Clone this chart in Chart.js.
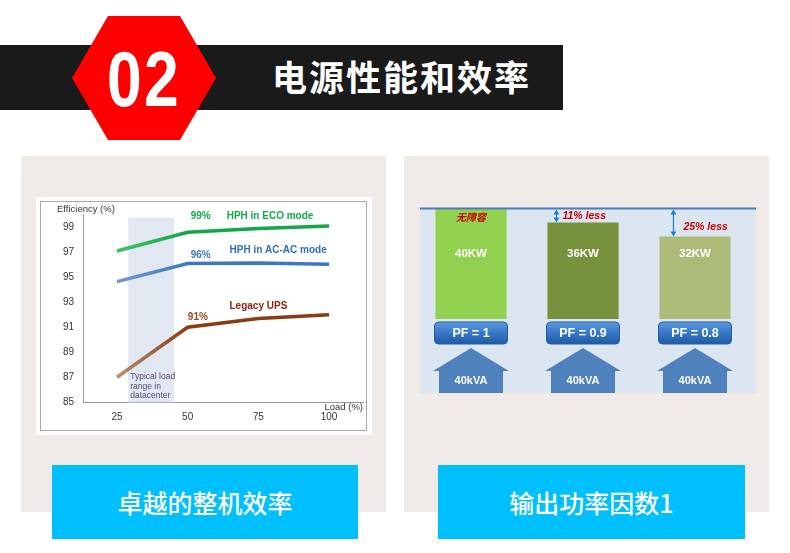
<!DOCTYPE html>
<html>
<head>
<meta charset="utf-8">
<script src="https://cdn.jsdelivr.net/npm/chart.js@4.4.1/dist/chart.umd.min.js"></script>
<style>
  body { margin: 0; width: 790px; height: 553px; background: #fff; position: relative; overflow: hidden; }
  .abs { position: absolute; }
  .band { left: 0; top: 45px; width: 563px; height: 65px; background: #1a1a1a; }
  .hex { left: 0; top: 0; }
  .num { left: 72px; top: 40px; width: 144px; text-align: center; color: #fff; font: bold 78px/1 "Liberation Sans", Arial, sans-serif; letter-spacing: 3px; transform: scaleX(0.8); transform-origin: 72px 0; }
  .title { left: 272px; top: 58px; color: #fff; font: bold 35px/1 "Noto Sans CJK SC", sans-serif; letter-spacing: 2px; white-space: nowrap; }
  .panel { top: 156px; height: 356px; background: #f0ebe7; }
  .frame { left: 36px; top: 197px; width: 336px; height: 238px; background: #fff; }
  .border { left: 40px; top: 201px; width: 325px; height: 228px; border: 1px solid #a9a9a9; }
  .bluebg { left: 420px; top: 207px; width: 336px; height: 186px; background: #dce6f1; }
  .btn { top: 465px; height: 74px; background: #00bfff; color: #fff; font: 500 25px/74px "Noto Sans CJK SC", sans-serif; text-align: center; }
</style>
</head>
<body>
<div class="abs band"></div>
<svg class="abs hex" width="230" height="150">
  <polygon points="72,78 108,16 180,16 216,78 180,140 108,140" fill="#ff0000"/>
</svg>
<div class="abs num">02</div>
<div class="abs title">电源性能和效率</div>

<div class="abs panel" style="left:21px;width:365px"></div>
<div class="abs panel" style="left:404px;width:365px"></div>

<div class="abs frame"></div>
<div class="abs border"></div>
<canvas id="effChart" class="abs" width="336" height="238" style="left:36px;top:197px"></canvas>

<div class="abs bluebg"></div>
<canvas id="pfChart" class="abs" width="341" height="193" style="left:415px;top:200px"></canvas>

<div class="abs btn" style="left:52px;width:306px">卓越的整机效率</div>
<div class="abs btn" style="left:438px;width:307px">输出功率因数1</div>

<script>
"use strict";

// left chart: efficiency vs load
const loads = [25, 50, 75, 100];
const ecoEff = [97.1, 98.6, 98.9, 99.1];
const acacEff = [94.65, 96.1, 96.15, 96.05];
const legacyEff = [87.0, 91.0, 91.7, 92.0];
const yTicks = [85, 87, 89, 91, 93, 95, 97, 99];
const xTicks = [25, 50, 75, 100];
const typicalRange = [29, 45.2];

// right chart: output power at 40kVA
const pfLabels = ['PF = 1', 'PF = 0.9', 'PF = 0.8'];
const powerKW = [40, 36, 32];
const kwLabels = ['40KW', '36KW', '32KW'];
const kvaLabels = ['40kVA', '40kVA', '40kVA'];
const lessLabels = ['无障容', '11% less', '25% less'];

const FONT = '"Liberation Sans", Arial, sans-serif';

// text notes on the efficiency chart (data units)
const effNotes = [
    { text: '99%', x: 54.6, y: 99.9, color: '#14a84a', align: 'center', font: 'bold 10px' },
    { text: 'HPH in ECO mode', x: 63.8, y: 99.9, color: '#14a84a', align: 'left', font: 'bold 10px' },
    { text: '96%', x: 54.6, y: 96.73, color: '#3b78c4', align: 'center', font: 'bold 10px' },
    { text: 'HPH in AC-AC mode', x: 64.8, y: 97.18, color: '#2e6fbf', align: 'left', font: 'bold 10px' },
    { text: 'Legacy UPS', x: 64.8, y: 92.7, color: '#8b2410', align: 'left', font: 'bold 10px' },
    { text: '91%', x: 53.6, y: 91.8, color: '#9a4a1a', align: 'center', font: 'bold 10px' },
    { text: 'Typical load', x: 29.7, y: 87.05, color: '#5a4a78', align: 'left', font: '8.5px' },
    { text: 'range in', x: 29.7, y: 86.25, color: '#5a4a78', align: 'left', font: '8.5px' },
    { text: 'datacenter', x: 29.7, y: 85.5, color: '#5a4a78', align: 'left', font: '8.5px' },
];

function fadeLine(light, dark) {
    return (context) => {
        const chart = context.chart;
        if (!chart.chartArea || !chart.scales.x) return dark;
        const xs = chart.scales.x;
        const g = chart.ctx.createLinearGradient(xs.getPixelForValue(25), 0, xs.getPixelForValue(50), 0);
        g.addColorStop(0, light);
        g.addColorStop(1, dark);
        return g;
    };
}

function points(values) {
    return loads.map((x, i) => ({ x: x, y: values[i] }));
}

const effDecor = {
    id: 'effDecor',
    beforeDatasetsDraw(chart) {
        const { ctx, scales: { x, y } } = chart;
        const left = x.getPixelForValue(typicalRange[0]);
        const right = x.getPixelForValue(typicalRange[1]);
        const top = y.getPixelForValue(99.77);
        ctx.save();
        ctx.fillStyle = '#e1e8f2';
        ctx.fillRect(left, top, right - left, y.getPixelForValue(85) - top);
        ctx.restore();
    },
    afterDatasetsDraw(chart) {
        const { ctx, chartArea, scales: { x, y } } = chart;
        ctx.save();
        ctx.textBaseline = 'middle';
        effNotes.forEach(n => {
            ctx.font = n.font + ' ' + FONT;
            ctx.fillStyle = n.color;
            ctx.textAlign = n.align;
            ctx.fillText(n.text, x.getPixelForValue(n.x), y.getPixelForValue(n.y));
        });
        ctx.font = '9.5px ' + FONT;
        ctx.fillStyle = '#333';
        ctx.textAlign = 'left';
        ctx.fillText('Efficiency (%)', chartArea.left - 26, chartArea.top - 5);
        ctx.textAlign = 'right';
        ctx.fillText('Load (%)', chartArea.right, chartArea.bottom + 5);
        ctx.restore();
    }
};

new Chart(document.getElementById('effChart'), {
    type: 'line',
    data: {
        datasets: [
            { label: 'HPH in ECO mode', data: points(ecoEff), borderColor: fadeLine('#40c066', '#12a84a') },
            { label: 'HPH in AC-AC mode', data: points(acacEff), borderColor: fadeLine('#7399cc', '#3b78c4') },
            { label: 'Legacy UPS', data: points(legacyEff), borderColor: fadeLine('#b99070', '#8b3b12') },
        ]
    },
    options: {
        responsive: false,
        animation: false,
        devicePixelRatio: 1,
        layout: { padding: { top: 17.8, right: 9, left: 0, bottom: 0 } },
        elements: {
            line: { borderWidth: 3.5, tension: 0, borderCapStyle: 'butt' },
            point: { radius: 0 }
        },
        plugins: { legend: { display: false }, tooltip: { enabled: false } },
        scales: {
            x: {
                type: 'linear', min: 13, max: 112,
                afterBuildTicks: s => { s.ticks = xTicks.map(v => ({ value: v })); },
                afterFit: s => { s.height = 32.7; },
                grid: { display: false, drawTicks: false },
                border: { display: true, color: '#9a9a9a', width: 1 },
                ticks: { color: '#333', font: { family: FONT, size: 10 }, padding: 9, maxRotation: 0 }
            },
            y: {
                min: 85, max: 100,
                afterBuildTicks: s => { s.ticks = yTicks.map(v => ({ value: v })); },
                afterFit: s => { s.width = 47; },
                grid: { display: false, drawTicks: false },
                border: { display: true, color: '#9a9a9a', width: 1 },
                ticks: { color: '#333', font: { family: FONT, size: 10 }, padding: 9 }
            }
        }
    },
    plugins: [effDecor]
});

function roundRect(ctx, x, y, w, h, r) {
    ctx.beginPath();
    ctx.moveTo(x + r, y);
    ctx.arcTo(x + w, y, x + w, y + h, r);
    ctx.arcTo(x + w, y + h, x, y + h, r);
    ctx.arcTo(x, y + h, x, y, r);
    ctx.arcTo(x, y, x + w, y, r);
    ctx.closePath();
}

function vArrow(ctx, x, y1, y2) {
    ctx.beginPath();
    ctx.moveTo(x, y1 + 2);
    ctx.lineTo(x, y2 - 2);
    ctx.stroke();
    ctx.beginPath();
    ctx.moveTo(x, y1); ctx.lineTo(x - 3, y1 + 5); ctx.lineTo(x + 3, y1 + 5); ctx.closePath();
    ctx.moveTo(x, y2); ctx.lineTo(x - 3, y2 - 5); ctx.lineTo(x + 3, y2 - 5); ctx.closePath();
    ctx.fill();
}

const pfDecor = {
    id: 'pfDecor',
    afterDatasetsDraw(chart) {
        const { ctx, chartArea, scales: { y } } = chart;
        const meta = chart.getDatasetMeta(0);
        const topY = y.getPixelForValue(powerKW[0]);
        ctx.save();
        // reference line at full power
        ctx.strokeStyle = '#4a7ebb';
        ctx.lineWidth = 2;
        ctx.beginPath();
        ctx.moveTo(5, topY);
        ctx.lineTo(chart.width, topY);
        ctx.stroke();

        meta.data.forEach((bar, i) => {
            const cx = bar.x;
            const half = bar.width / 2;
            // KW label
            ctx.fillStyle = '#fff';
            ctx.font = 'bold 11.5px ' + FONT;
            ctx.textAlign = 'center';
            ctx.textBaseline = 'middle';
            ctx.fillText(kwLabels[i], cx, chartArea.top + 45);

            // difference marker
            ctx.font = 'italic bold 10.5px ' + FONT;
            ctx.fillStyle = '#cc0000';
            if (i === 0) {
                ctx.font = 'italic bold 10px "Noto Sans CJK SC", sans-serif';
                ctx.fillText(lessLabels[i], cx, chartArea.top + 9);
            } else {
                const ax = cx - half + 9 + (i - 1) * 5;
                ctx.strokeStyle = '#1e80d2';
                ctx.fillStyle = '#1e80d2';
                ctx.lineWidth = 1.2;
                vArrow(ctx, ax, topY + 1, bar.y);
                ctx.fillStyle = '#cc0000';
                ctx.textAlign = 'left';
                ctx.fillText(lessLabels[i], ax + 6 + (i - 1) * 4, (topY + bar.y) / 2 + 1 + (i - 1) * 4);
            }

            // PF box
            const bw = 73, bh = 22, by = chartArea.bottom + 3;
            const g = ctx.createLinearGradient(0, by, 0, by + bh);
            g.addColorStop(0, '#5b9ae0');
            g.addColorStop(0.5, '#3677c8');
            g.addColorStop(1, '#1f5aa6');
            ctx.fillStyle = g;
            roundRect(ctx, cx - bw / 2, by, bw, bh, 4);
            ctx.fill();
            ctx.strokeStyle = '#2a5d9f';
            ctx.lineWidth = 1;
            ctx.stroke();
            ctx.fillStyle = '#fff';
            ctx.font = 'bold 12.5px ' + FONT;
            ctx.textAlign = 'center';
            ctx.fillText(pfLabels[i], cx, by + bh / 2 + 0.5);

            // kVA house arrow
            const apex = chartArea.bottom + 29, shoulder = chartArea.bottom + 52;
            ctx.fillStyle = '#4f81bd';
            ctx.beginPath();
            ctx.moveTo(cx, apex);
            ctx.lineTo(cx + 38, shoulder);
            ctx.lineTo(cx + 32, shoulder);
            ctx.lineTo(cx + 32, chart.height);
            ctx.lineTo(cx - 32, chart.height);
            ctx.lineTo(cx - 32, shoulder);
            ctx.lineTo(cx - 38, shoulder);
            ctx.closePath();
            ctx.fill();
            ctx.fillStyle = '#fff';
            ctx.font = 'bold 11px ' + FONT;
            ctx.fillText(kvaLabels[i], cx, chartArea.bottom + 62);
        });
        ctx.restore();
    }
};

new Chart(document.getElementById('pfChart'), {
    type: 'bar',
    data: {
        labels: pfLabels,
        datasets: [{
            data: powerKW,
            backgroundColor: ['#92d050', '#76923c', '#adbb79'],
            barPercentage: 0.635,
            categoryPercentage: 1
        }]
    },
    options: {
        responsive: false,
        animation: false,
        devicePixelRatio: 1,
        layout: { padding: { top: 8.5, right: 5, left: 0, bottom: 74 } },
        plugins: { legend: { display: false }, tooltip: { enabled: false } },
        scales: {
            x: { display: false },
            y: { display: false, min: 8.5, max: 40 }
        }
    },
    plugins: [pfDecor]
});
</script>
</body>
</html>
